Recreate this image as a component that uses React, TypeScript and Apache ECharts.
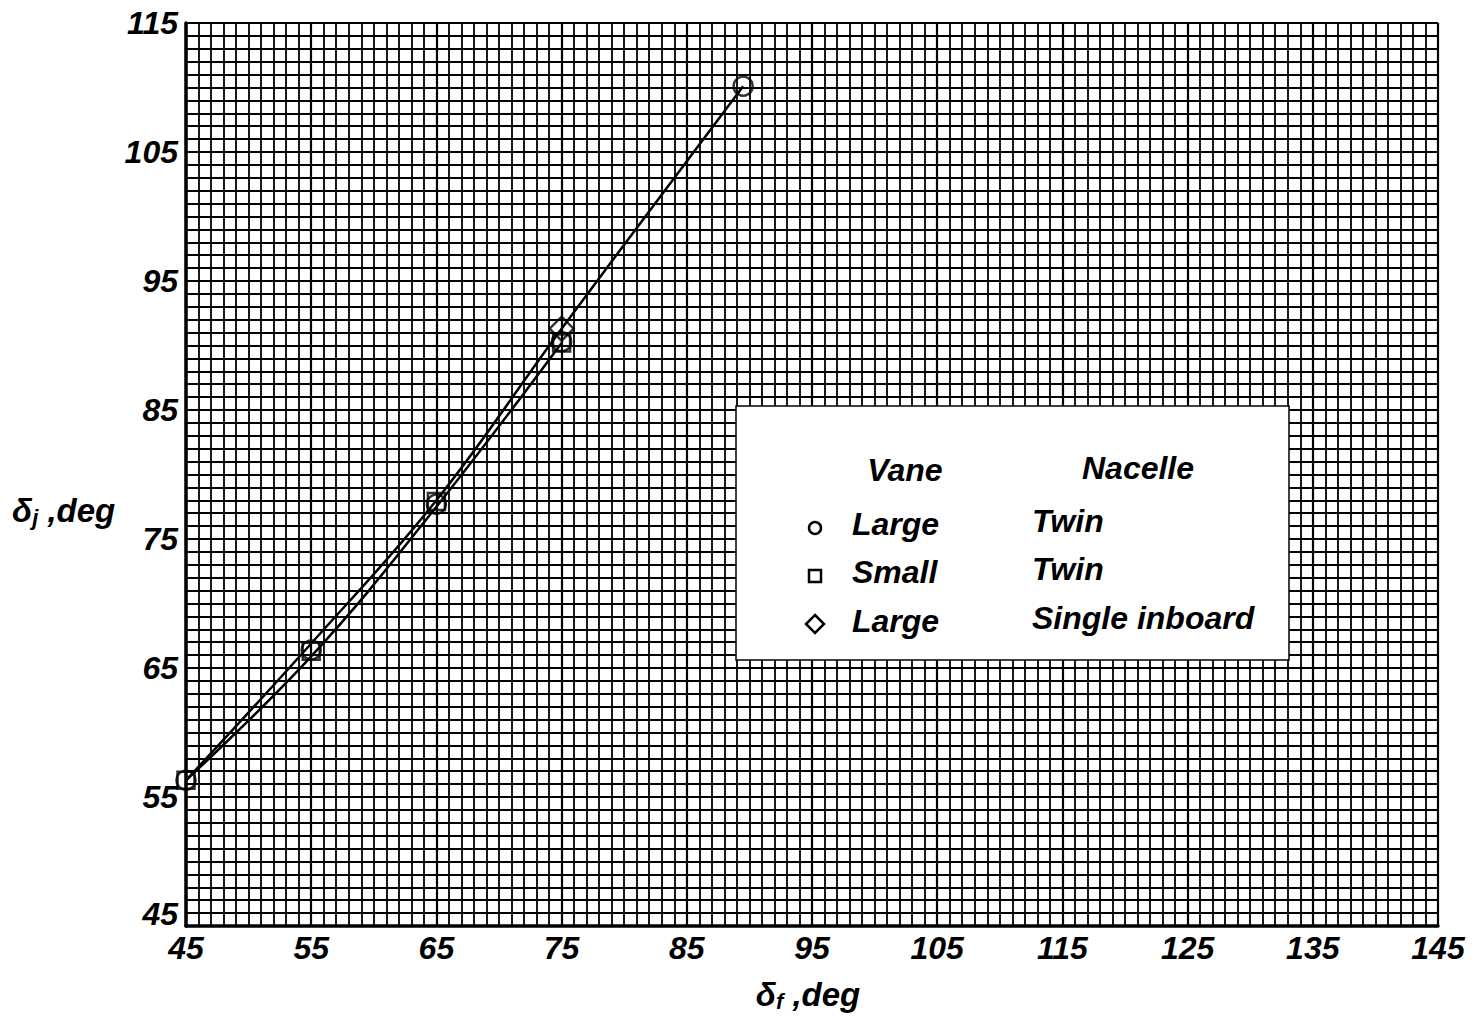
import React, { useEffect, useRef } from "react";
import * as echarts from "echarts";

const xTicks = [45, 55, 65, 75, 85, 95, 105, 115, 125, 135, 145];
const yTicks = [45, 55, 65, 75, 85, 95, 105, 115];

// Marker data (δf, δj)
const largeTwin: [number, number][] = [
  [45, 56.3], [55, 66.4], [65, 77.7], [75, 90.3], [89.5, 110.1],
];
const smallTwin: [number, number][] = [
  [45, 56.3], [55, 66.3], [65, 77.9], [75, 90.2],
];
const largeSingle: [number, number][] = [[75, 91.3]];

// Faired curves
const curveUpper: [number, number][] = [
  [45, 56.3], [55, 66.9], [65, 78.0], [75, 91.3], [89.5, 110.1],
];
const curveLower: [number, number][] = [
  [45, 56.3], [55, 65.9], [65, 77.5], [75, 90.2],
];

const legendRows = [
  { vane: "Large", nacelle: "Twin", symbol: "circle" },
  { vane: "Small", nacelle: "Twin", symbol: "square" },
  { vane: "Large", nacelle: "Single inboard", symbol: "diamond" },
];

const FONT = "Liberation Sans";

export default function App() {
  const ref = useRef<HTMLDivElement>(null);
  useEffect(() => {
    const chart = echarts.init(ref.current!, null, { renderer: "svg" });
    const labelStyle = {
      color: "#000",
      fontFamily: FONT,
      fontStyle: "italic" as const,
      fontWeight: "bold" as const,
      fontSize: 32,
      lineHeight: 30,
    };
    const lf = `italic bold 32px "${FONT}"`;
    const legendGraphics: any[] = [
      {
        type: "rect",
        shape: { x: 736, y: 406, width: 553, height: 254 },
        style: { fill: "#fff", stroke: "#000", lineWidth: 1.5 },
        z: 100,
      },
      {
        type: "text",
        x: 905, y: 470,
        style: { text: "Vane", fill: "#000", font: lf, textAlign: "center", textVerticalAlign: "middle" },
        z: 101,
      },
      {
        type: "text",
        x: 1138, y: 468,
        style: { text: "Nacelle", fill: "#000", font: lf, textAlign: "center", textVerticalAlign: "middle" },
        z: 101,
      },
    ];
    const rowYs = [524, 572, 621];
    legendRows.forEach((r, i) => {
      const y = rowYs[i];
      if (r.symbol === "circle") {
        legendGraphics.push({ type: "circle", shape: { cx: 815, cy: y + 4, r: 6 }, style: { fill: "#fff", stroke: "#000", lineWidth: 2.5 }, z: 101 });
      } else if (r.symbol === "square") {
        legendGraphics.push({ type: "rect", shape: { x: 809, y: y - 2, width: 12, height: 12 }, style: { fill: "#fff", stroke: "#000", lineWidth: 2.5 }, z: 101 });
      } else {
        legendGraphics.push({ type: "polygon", shape: { points: [[815, y - 6], [824, y + 3], [815, y + 12], [806, y + 3]] }, style: { fill: "#fff", stroke: "#000", lineWidth: 2.5 }, z: 101 });
      }
      legendGraphics.push({
        type: "text", x: 852, y: y,
        style: { text: r.vane, fill: "#000", font: lf, textAlign: "left", textVerticalAlign: "middle" },
        z: 101,
      });
      legendGraphics.push({
        type: "text", x: 1032, y: y - 3,
        style: { text: r.nacelle, fill: "#000", font: lf, textAlign: "left", textVerticalAlign: "middle" },
        z: 101,
      });
    });

    const axisNameRich = {
      a: { fontFamily: FONT, fontStyle: "italic" as const, fontWeight: "bold" as const, fontSize: 33, color: "#000" },
      s: { fontFamily: FONT, fontStyle: "italic" as const, fontWeight: "bold" as const, fontSize: 22, color: "#000", padding: [14, 0, 0, 0] },
    };

    chart.setOption({
      animation: false,
      backgroundColor: "#fff",
      grid: { left: 186, right: 43, top: 23, bottom: 92 },
      xAxis: {
        type: "value",
        min: xTicks[0],
        max: xTicks[xTicks.length - 1],
        interval: 10,
        axisLine: { show: true, onZero: false, lineStyle: { color: "#000", width: 3.5 } },
        axisTick: { show: false },
        axisLabel: { ...labelStyle, margin: 7, formatter: (v: number) => (xTicks.includes(v) ? String(v) : "") },
        splitLine: { show: true, lineStyle: { color: "#000", width: 2.2 } },
        minorTick: { show: false, splitNumber: 10 },
        minorSplitLine: { show: true, lineStyle: { color: "#000", width: 1.8 } },
      },
      yAxis: {
        type: "value",
        min: yTicks[0],
        max: yTicks[yTicks.length - 1],
        interval: 10,
        axisLine: { show: true, onZero: false, lineStyle: { color: "#000", width: 3.5 } },
        axisTick: { show: false },
        axisLabel: {
          ...labelStyle,
          margin: 8,
          showMinLabel: false,
          formatter: (v: number) => (yTicks.includes(v) && v !== yTicks[0] ? String(v) : ""),
        },
        splitLine: { show: true, lineStyle: { color: "#000", width: 2.2 } },
        minorTick: { show: false, splitNumber: 10 },
        minorSplitLine: { show: true, lineStyle: { color: "#000", width: 1.8 } },
      },
      series: [
        {
          type: "line", data: curveUpper, smooth: 0.4, showSymbol: false,
          lineStyle: { color: "#000", width: 2.5 }, z: 5,
        },
        {
          type: "line", data: curveLower, smooth: 0.4, showSymbol: false,
          lineStyle: { color: "#000", width: 2.5 }, z: 5,
        },
        {
          type: "scatter", data: largeTwin, symbol: "circle", symbolSize: 19,
          itemStyle: { color: "rgba(255,255,255,0)", borderColor: "#000", borderWidth: 2.5 }, z: 6,
        },
        {
          type: "scatter", data: smallTwin, symbol: "rect", symbolSize: 17,
          itemStyle: { color: "rgba(255,255,255,0)", borderColor: "#000", borderWidth: 2.5 }, z: 6,
        },
        {
          type: "scatter", data: largeSingle, symbol: "diamond", symbolSize: [24, 24],
          itemStyle: { color: "rgba(255,255,255,0)", borderColor: "#000", borderWidth: 2.5 }, z: 6,
        },
      ],
    });

    // bottom-left y tick label placed above the x tick label, via the axis scale
    const corner = chart.convertToPixel({ gridIndex: 0 }, [xTicks[0], yTicks[0]]) as number[];

    chart.setOption({
      graphic: [
        {
          type: "text",
          x: corner[0] - 8,
          y: corner[1] + 4,
          style: {
            text: String(yTicks[0]),
            fill: "#000",
            font: `italic bold 32px "${FONT}"`,
            textAlign: "right",
            textVerticalAlign: "bottom",
          },
          z: 50,
        },
        {
          type: "text",
          x: 12, y: 510,
          style: {
            text: "{a|δ}{s|j}{a| ,deg}",
            rich: axisNameRich,
            textVerticalAlign: "middle",
          },
          z: 50,
        },
        {
          type: "text",
          x: 808, y: 994,
          style: {
            text: "{a|δ}{s|f}{a| ,deg}",
            rich: axisNameRich,
            textAlign: "center",
            textVerticalAlign: "middle",
          },
          z: 50,
        },
        ...legendGraphics,
      ],
    });
    return () => chart.dispose();
  }, []);
  return (
    <div
      ref={ref}
      style={{ position: "absolute", left: 0, top: 0, width: 1481, height: 1018 }}
    />
  );
}
